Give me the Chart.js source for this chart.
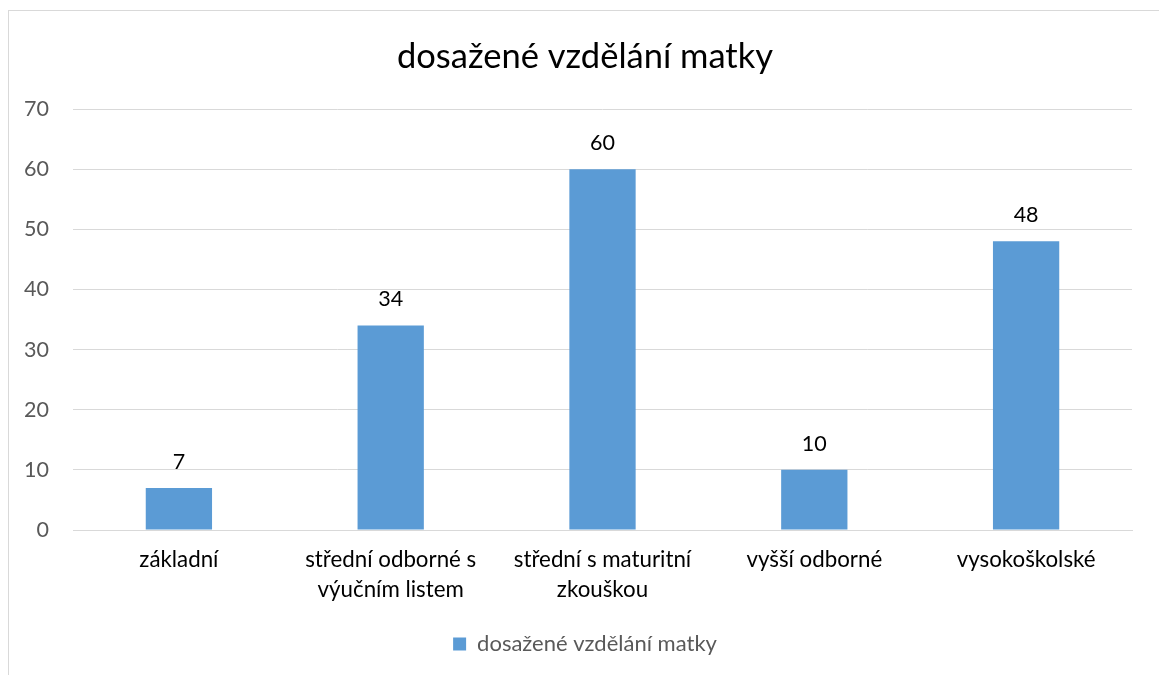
<!DOCTYPE html>
<html lang="cs">
<head>
<meta charset="utf-8">
<title>dosažené vzdělání matky</title>
<script src="https://cdn.jsdelivr.net/npm/chart.js@4/dist/chart.umd.min.js"></script>
<style>
    html, body {
        margin: 0;
        padding: 0;
        width: 1159px;
        height: 675px;
        overflow: hidden;
        background: #fff;
    }
    #frame {
        position: absolute;
        left: 8px;
        top: 10px;
        width: 1200px;
        height: 700px;
        border: 1px solid #d9d9d9;
        box-sizing: border-box;
    }
    #wrap {
        position: absolute;
        left: 0;
        top: 0;
        width: 1159px;
        height: 675px;
    }
</style>
</head>
<body>
<div id="frame"></div>
<div id="wrap"><canvas id="chart"></canvas></div>
<script>
// data
const categories = [
    'základní',
    ['střední odborné s', 'výučním listem'],
    ['střední s maturitní', 'zkouškou'],
    'vyšší odborné',
    'vysokoškolské'
];
const seriesName = 'dosažené vzdělání matky';
const values = [7, 34, 60, 10, 48];
const yTicks = [0, 10, 20, 30, 40, 50, 60, 70];

const FONT = 'Lato, "Open Sans", "Noto Sans", sans-serif';
const BAR_COLOR = '#5b9bd5';
const GRID_COLOR = '#d9d9d9';

// simple value labels above bars (no datalabels plugin available)
const valueLabels = {
    id: 'valueLabels',
    afterDatasetsDraw(chart) {
        const ctx = chart.ctx;
        ctx.save();
        ctx.font = '21.5px ' + FONT;
        ctx.fillStyle = '#000';
        ctx.textAlign = 'center';
        ctx.textBaseline = 'middle';
        chart.getDatasetMeta(0).data.forEach((bar, i) => {
            ctx.fillText(String(values[i]), bar.x, bar.y - 26);
        });
        ctx.restore();
    }
};

new Chart(document.getElementById('chart'), {
    type: 'bar',
    data: {
        labels: categories,
        datasets: [{
            label: seriesName,
            data: values,
            backgroundColor: BAR_COLOR,
            borderWidth: 0,
            barPercentage: 0.313,
            categoryPercentage: 1
        }]
    },
    options: {
        responsive: true,
        maintainAspectRatio: false,
        animation: false,
        layout: {
            padding: { left: 11, right: 0, top: 0, bottom: 10 }
        },
        plugins: {
            title: {
                display: true,
                text: seriesName,
                color: '#000',
                font: { family: FONT, size: 34.5, weight: 'normal', lineHeight: 1.2 },
                padding: { top: 36.3, bottom: 31.3 }
            },
            legend: {
                display: true,
                position: 'bottom',
                labels: {
                    color: '#595959',
                    font: { family: FONT, size: 22 },
                    boxWidth: 13,
                    boxHeight: 13,
                    padding: 10
                }
            },
            tooltip: { enabled: false }
        },
        scales: {
            x: {
                grid: { display: false, drawTicks: false },
                border: { display: true, color: GRID_COLOR, width: 1 },
                ticks: {
                    color: '#000',
                    font: { family: FONT, size: 22.3, lineHeight: 1.35 },
                    padding: 15,
                    maxRotation: 0,
                    autoSkip: false
                },
                afterFit(scale) { scale.height = 93; }
            },
            y: {
                min: 0,
                max: 70,
                grid: { color: GRID_COLOR, drawTicks: false },
                border: { display: false },
                afterBuildTicks(scale) {
                    scale.ticks = yTicks.map(v => ({ value: v }));
                },
                ticks: {
                    color: '#595959',
                    font: { family: FONT, size: 21.5 },
                    padding: 24
                },
                afterFit(scale) { scale.width = 62; }
            },
            yRight: {
                position: 'right',
                display: true,
                grid: { display: false, drawTicks: false },
                border: { display: false },
                ticks: { display: false },
                afterFit(scale) { scale.width = 27; }
            }
        }
    },
    plugins: [valueLabels]
});
</script>
</body>
</html>
